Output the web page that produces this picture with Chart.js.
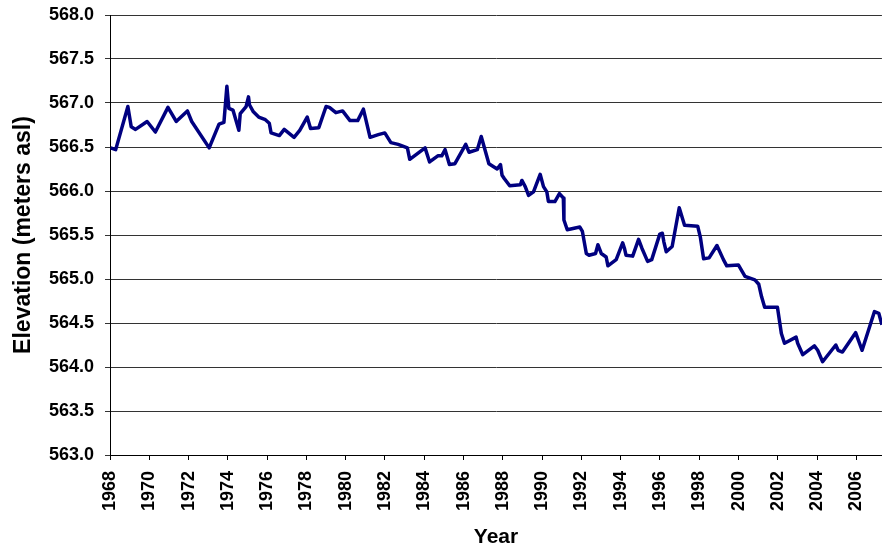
<!DOCTYPE html>
<html>
<head>
<meta charset="utf-8">
<script src="https://cdn.jsdelivr.net/npm/chart.js@4/dist/chart.umd.min.js"></script>
<style>
html,body{margin:0;padding:0;background:#fff;}
canvas{display:block;}
</style>
</head>
<body>
<canvas id="c" width="889" height="550"></canvas>
<script>
const years = [
1968.03,1968.29,1968.91,1969.08,1969.30,1969.89,1970.31,1970.95,1971.37,1971.94,
1972.16,1973.05,1973.55,1973.80,1973.95,1974.05,1974.26,1974.56,1974.63,1974.93,
1975.05,1975.10,1975.30,1975.57,1975.91,1976.11,1976.20,1976.62,1976.87,1977.37,
1977.66,1978.04,1978.21,1978.63,1979.00,1979.17,1979.50,1979.84,1980.22,1980.61,
1980.90,1981.24,1981.66,1981.99,1982.30,1982.67,1983.14,1983.26,1984.04,1984.27,
1984.69,1984.89,1985.06,1985.28,1985.56,1986.11,1986.28,1986.70,1986.90,1987.29,
1987.71,1987.88,1987.96,1988.08,1988.35,1988.89,1988.97,1989.14,1989.31,1989.56,
1989.90,1990.07,1990.24,1990.32,1990.65,1990.88,1991.08,1991.11,1991.28,1991.92,
1992.05,1992.25,1992.39,1992.72,1992.84,1993.01,1993.26,1993.35,1993.77,1994.10,
1994.19,1994.27,1994.61,1994.91,1995.08,1995.37,1995.58,1995.99,1996.12,1996.20,
1996.32,1996.62,1996.98,1997.25,1997.92,1998.06,1998.22,1998.50,1998.90,1999.23,
1999.40,1999.99,2000.33,2000.83,2001.03,2001.17,2001.33,2001.98,2002.18,2002.34,
2002.93,2003.01,2003.27,2003.86,2004.03,2004.28,2004.95,2005.07,2005.29,2005.96,
2006.29,2006.92,2007.14,2007.30
];
const elevations = [
566.49,566.47,566.96,566.73,566.70,566.79,566.67,566.95,566.79,566.91,
566.79,566.49,566.76,566.78,567.19,566.94,566.92,566.69,566.88,566.96,
567.07,566.98,566.90,566.84,566.81,566.77,566.66,566.63,566.70,566.61,
566.69,566.84,566.71,566.72,566.96,566.95,566.89,566.91,566.80,566.80,
566.93,566.61,566.64,566.66,566.55,566.53,566.49,566.36,566.49,566.33,
566.40,566.40,566.47,566.30,566.31,566.53,566.44,566.47,566.62,566.31,
566.25,566.30,566.18,566.14,566.06,566.07,566.12,566.05,565.95,565.99,
566.19,566.05,565.99,565.88,565.88,565.97,565.92,565.67,565.56,565.59,
565.54,565.29,565.27,565.29,565.39,565.29,565.25,565.15,565.22,565.41,
565.35,565.27,565.26,565.45,565.35,565.20,565.22,565.51,565.52,565.42,
565.31,565.37,565.81,565.61,565.60,565.47,565.23,565.24,565.38,565.22,
565.15,565.16,565.03,564.99,564.94,564.80,564.68,564.68,564.38,564.27,
564.34,564.27,564.14,564.24,564.19,564.06,564.25,564.19,564.17,564.39,
564.19,564.63,564.61,564.48
];
const xTickYears = [1968,1970,1972,1974,1976,1978,1980,1982,1984,1986,1988,1990,1992,1994,1996,1998,2000,2002,2004,2006];
const yTickValues = [563.0,563.5,564.0,564.5,565.0,565.5,566.0,566.5,567.0,567.5,568.0];
const xTitle = 'Year';
const yTitle = 'Elevation (meters asl)';

const FONT = '"Liberation Sans", Arial, Helvetica, sans-serif';

new Chart(document.getElementById('c').getContext('2d'), {
  type: 'line',
  data: {
    datasets: [{
      data: years.map((x, i) => ({x: x, y: elevations[i]})),
      borderColor: '#000080',
      borderWidth: 3.5,
      pointRadius: 0,
      tension: 0,
      fill: false,
      borderJoinStyle: 'round'
    }]
  },
  options: {
    responsive: false,
    animation: false,
    devicePixelRatio: 1,
    layout: {padding: {top: 15, right: 0, bottom: 0, left: 0}},
    plugins: {legend: {display: false}, tooltip: {enabled: false}},
    scales: {
      x: {
        type: 'linear',
        position: 'bottom',
        min: 1968,
        max: 2007.3,
        afterBuildTicks: s => { s.ticks = xTickYears.map(v => ({value: v})); },
        afterFit: s => { s.height = 95; },
        ticks: {
          autoSkip: false,
          minRotation: 90,
          maxRotation: 90,
          padding: 11,
          color: '#000',
          font: {family: FONT, size: 18, weight: 'bold'},
          callback: v => String(v)
        },
        grid: {drawOnChartArea: false, drawTicks: true, tickLength: 5, color: '#000', lineWidth: 1},
        border: {display: true, color: '#000', width: 1},
        title: {
          display: true, text: xTitle, color: '#000',
          font: {family: FONT, size: 21, weight: 'bold'},
          padding: {top: 0, bottom: 0}
        }
      },
      y: {
        type: 'linear',
        position: 'left',
        min: 563,
        max: 568,
        afterBuildTicks: s => { s.ticks = yTickValues.map(v => ({value: v})); },
        afterFit: s => { s.width = 110; },
        ticks: {
          padding: 11,
          color: '#000',
          font: {family: FONT, size: 18, weight: 'bold', lineHeight: 0.4},
          callback: v => Number(v).toFixed(1)
        },
        grid: {color: '#333', lineWidth: 1, drawTicks: true, tickLength: 5},
        border: {display: true, color: '#000', width: 1},
        title: {
          display: true, text: yTitle, color: '#000',
          font: {family: FONT, size: 23, weight: 'bold'},
          padding: {top: 10, bottom: 0}
        }
      }
    }
  }
});
</script>
</body>
</html>
